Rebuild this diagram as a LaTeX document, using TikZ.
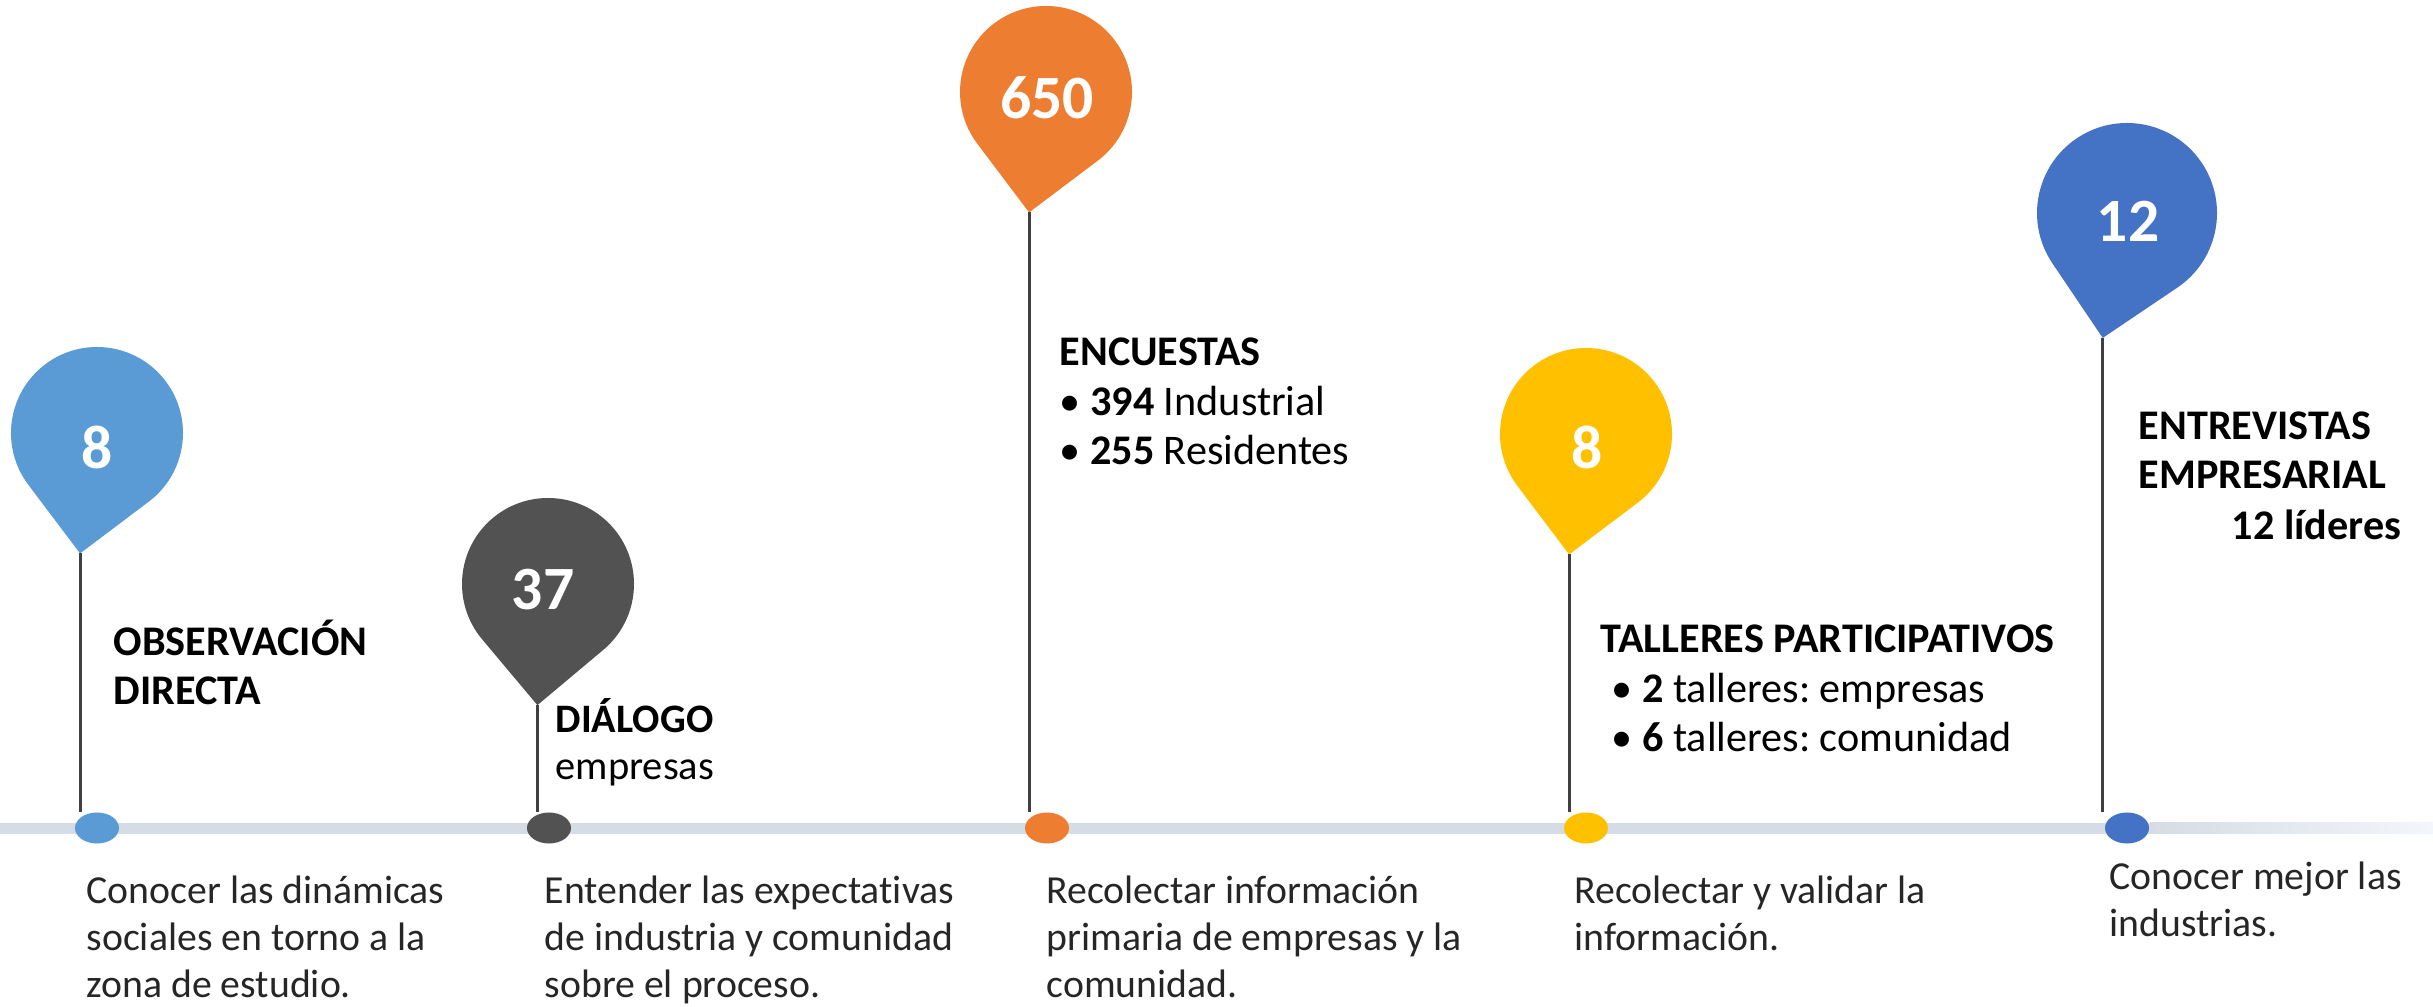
\documentclass[tikz,border=0pt]{standalone}
\usepackage{fontspec}
\setmainfont{Carlito}[Ligatures=NoCommon]
\usetikzlibrary{calc,shapes.geometric}
\definecolor{pinA}{HTML}{5B9BD5}
\definecolor{pinB}{HTML}{525252}
\definecolor{pinC}{HTML}{ED7D31}
\definecolor{pinD}{HTML}{FFC000}
\definecolor{pinE}{HTML}{4472C4}
\definecolor{barcol}{HTML}{D6DCE5}
\definecolor{barend}{HTML}{F3F6FA}
\definecolor{stemcol}{HTML}{404040}
\definecolor{desccol}{HTML}{262626}
\frenchspacing
\tikzset{%
	stem/.style={draw=stemcol,line width=0.85pt},
	num/.style={text=white,inner sep=0,font=\bfseries\fontsize{17.5}{20}\selectfont},
	head/.style={anchor=base west,align=left,inner sep=0,font=\fontsize{12}{14.2}\selectfont},
	desc/.style={anchor=base west,align=left,inner sep=0,text=desccol,font=\fontsize{11.3}{13.4}\selectfont}
}
\newcommand{\pindrop}[5]{%
	\fill[#1] ($(#2)+(#3:{1.4142*#4})$) coordinate (#5) -- ($(#2)+({#3+45}:#4)$)
		arc[start angle={#3+45}, end angle={#3+315}, radius=#4] -- cycle;}

\begin{document}
\begin{tikzpicture}[x=0.01cm,y=0.01cm,dot/.style={ellipse,fill=#1,inner sep=0,minimum width=0.44cm,minimum height=0.31cm}]
	\useasboundingbox (0,0) rectangle (2433,-1007);
	\fill[barcol] (0,-823) rectangle (2150,-834);
	\shade[left color=barcol,right color=barend] (2150,-823) rectangle (2433,-834);
	\coordinate (c1) at (97,-433);
	\coordinate (c2) at (548,-584);
	\coordinate (c3) at (1046,-92);
	\coordinate (c4) at (1586,-434);
	\coordinate (c5) at (2127,-213);
	\pindrop{pinA}{c1}{262}{86}{t1}
	\pindrop{pinB}{c2}{265}{86}{t2}
	\pindrop{pinC}{c3}{262}{86}{t3}
	\pindrop{pinD}{c4}{262}{86}{t4}
	\pindrop{pinE}{c5}{259}{90}{t5}
	\node [dot=pinA] (d1) at (97,-828) {};
	\node [dot=pinB] (d2) at (549,-828) {};
	\node [dot=pinC] (d3) at (1047,-828) {};
	\node [dot=pinD] (d4) at (1586,-828) {};
	\node [dot=pinE] (d5) at (2127,-828) {};
	\draw [stem] (t1) -- (t1 |- d1.north);
	\draw [stem] (t2) -- (t2 |- d2.north);
	\draw [stem] (t3) -- (t3 |- d3.north);
	\draw [stem] (t4) -- (t4 |- d4.north);
	\draw [stem] (t5) -- (t5 |- d5.north);
	\node [num] (n1) at (97,-447) {8};
	\node [num] (n2) at (543,-590) {37};
	\node [num] (n3) at (1047,-98) {650};
	\node [num] (n4) at (1587,-447) {8};
	\node [num] (n5) at (2128,-221) {12};
	\node [head] (h1) at (113,-705) {\textbf{OBSERVACIÓN}\\\textbf{DIRECTA}};
	\node [head,font=\fontsize{11.5}{13.4}\selectfont] (h2) at (555,-780) {\textbf{DIÁLOGO}\\empresas};
	\node [head] (h3) at (1059,-465) {\textbf{ENCUESTAS}\\• \textbf{394} Industrial\\• \textbf{255} Residentes};
	\node [head] (h4) at (1600,-752) {\textbf{TALLERES PARTICIPATIVOS}\\\hspace*{0.11cm}• \textbf{2} talleres: empresas\\\hspace*{0.11cm}• \textbf{6} talleres: comunidad};
	\node [head] (h5) at (2138,-489) {\textbf{ENTREVISTAS}\\\textbf{EMPRESARIAL}};
	\node [head,anchor=base east] (h5b) at (2402,-540) {\textbf{12 líderes}};
	\node [desc] (b1) at (86,-998) {Conocer las dinámicas\\sociales en torno a la\\zona de estudio.};
	\node [desc] (b2) at (544,-998) {Entender las expectativas\\de industria y comunidad\\sobre el proceso.};
	\node [desc] (b3) at (1046,-998) {Recolectar información\\primaria de empresas y la\\comunidad.};
	\node [desc] (b4) at (1574,-951) {Recolectar y validar la\\información.};
	\node [desc] (b5) at (2109,-937) {Conocer mejor las\\industrias.};
\end{tikzpicture}
\end{document}
